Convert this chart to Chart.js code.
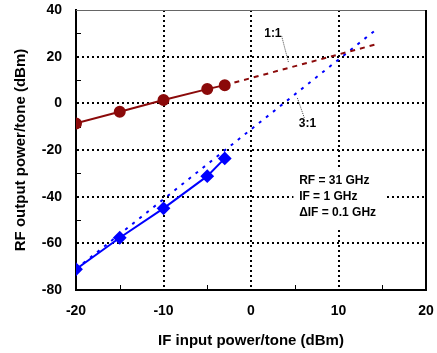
<!DOCTYPE html>
<html>
<head>
<meta charset="utf-8">
<script src="https://cdn.jsdelivr.net/npm/chart.js@4.4.0/dist/chart.umd.min.js"></script>
<style>
  body { margin: 0; background: #fff; }
  #wrap { width: 437px; height: 353px; }
</style>
</head>
<body>
<div id="wrap"><canvas id="chart" width="437" height="353"></canvas></div>
<script>
// IF input power per tone (dBm)
var inputPower = [-20, -15, -10, -5, -3];
// measured RF output power per tone (dBm)
var fundOut = [-8.6, -3.6, 1.4, 6.1, 7.8];
var im3Out = [-71.1, -57.6, -45.0, -31.2, -23.6];
// extrapolated 1:1 and 3:1 lines
var fit1x = [-3, 14.5];
var fit1y = [7.8, 25.5];
var fit3x = [-20, 14.5];
var fit3y = [-71, 32.2];
// labelled ticks
var xTicks = [-20, -10, 0, 10, 20];
var yTicks = [-80, -60, -40, -20, 0, 20, 40];
var notes = ['RF = 31 GHz', 'IF = 1 GHz', '\u0394IF = 0.1 GHz'];

var RED = '#8b0a0a';
var BLUE = '#0000ff';
var FONT = 'Liberation Sans, Arial, sans-serif';

function pts(xs, ys) {
    return xs.map(function(x, i) { return {x: x, y: ys[i]}; });
}

// minor ticks, frame, slope labels and the note box
var extras = {
    id: 'extras',
    beforeDatasetsDraw: function(chart) {
        var ctx = chart.ctx, a = chart.chartArea;
        var xs = chart.scales.x, ys = chart.scales.y;
        ctx.save();
        ctx.strokeStyle = '#000';
        ctx.lineWidth = 1;
        ys.ticks.forEach(function(t) {
            if (yTicks.indexOf(t.value) >= 0) return;
            var p = Math.round(ys.getPixelForValue(t.value)) + 0.5;
            ctx.beginPath(); ctx.moveTo(a.left, p); ctx.lineTo(a.left + 5, p); ctx.stroke();
        });
        xs.ticks.forEach(function(t) {
            if (xTicks.indexOf(t.value) >= 0) return;
            var p = Math.round(xs.getPixelForValue(t.value)) + 0.5;
            ctx.beginPath(); ctx.moveTo(p, a.bottom); ctx.lineTo(p, a.bottom - 5); ctx.stroke();
        });
        // top and right edges of the box
        ctx.strokeStyle = '#666';
        ctx.beginPath(); ctx.moveTo(a.left, a.top + 0.5); ctx.lineTo(a.right, a.top + 0.5); ctx.stroke();
        ctx.strokeStyle = '#000';
        ctx.lineWidth = 2;
        ctx.beginPath(); ctx.moveTo(a.right, a.top); ctx.lineTo(a.right, a.bottom); ctx.stroke();

        // note box (white behind the grid)
        var bx0 = xs.getPixelForValue(4.85), bx1 = xs.getPixelForValue(15.4);
        var by0 = ys.getPixelForValue(-28.6), by1 = ys.getPixelForValue(-54.3);
        ctx.fillStyle = '#fff';
        ctx.fillRect(bx0, by0, bx1 - bx0, by1 - by0);
        ctx.fillStyle = '#000';
        ctx.font = 'bold 12px ' + FONT;
        ctx.textAlign = 'left';
        ctx.textBaseline = 'middle';
        var tx = xs.getPixelForValue(5.5);
        notes.forEach(function(s, i) {
            ctx.fillText(s, tx, ys.getPixelForValue(-33.2 - i * 6.85));
        });

        // slope labels with leader lines
        ctx.textAlign = 'center';
        ctx.fillText('1:1', xs.getPixelForValue(2.5), ys.getPixelForValue(30));
        ctx.fillText('3:1', xs.getPixelForValue(6.45), ys.getPixelForValue(-8.9));
        ctx.strokeStyle = '#444';
        ctx.lineWidth = 1;
        ctx.setLineDash([1, 1]);
        ctx.beginPath();
        ctx.moveTo(xs.getPixelForValue(3.5), ys.getPixelForValue(28.9));
        ctx.lineTo(xs.getPixelForValue(4.3), ys.getPixelForValue(17.3));
        ctx.moveTo(xs.getPixelForValue(5.3), ys.getPixelForValue(2.3));
        ctx.lineTo(xs.getPixelForValue(6.1), ys.getPixelForValue(-6.3));
        ctx.stroke();
        ctx.restore();
    }
};

function gridColor(list, lo, hi) {
    return function(c) {
        var v = c.tick.value;
        return (list.indexOf(v) >= 0 && v !== lo && v !== hi) ? '#000' : 'rgba(0,0,0,0)';
    };
}

function noPad(s) {
    s.paddingLeft = 0; s.paddingRight = 0;
    s.paddingTop = 0; s.paddingBottom = 0;
}

var chart = new Chart(document.getElementById('chart'), {
    type: 'scatter',
    data: {
        datasets: [
            {
                data: pts(inputPower, fundOut),
                showLine: true,
                borderColor: RED, backgroundColor: RED,
                borderWidth: 2, pointRadius: 5, pointStyle: 'circle'
            },
            {
                data: pts(inputPower, im3Out),
                showLine: true,
                borderColor: BLUE, backgroundColor: BLUE,
                borderWidth: 2, pointRadius: 5.5, pointStyle: 'rectRot'
            },
            {
                data: pts(fit1x, fit1y),
                showLine: true,
                borderColor: RED, borderWidth: 2, borderDash: [5, 5],
                pointRadius: 0
            },
            {
                data: pts(fit3x, fit3y),
                showLine: true,
                borderColor: BLUE, borderWidth: 2, borderDash: [3, 6],
                pointRadius: 0
            }
        ]
    },
    options: {
        responsive: false,
        animation: false,
        layout: { padding: { top: 10, right: 11, left: 0, bottom: 0 } },
        plugins: { legend: { display: false }, tooltip: { enabled: false } },
        scales: {
            x: {
                type: 'linear', min: -20, max: 20,
                afterFit: function(s) { s.height = 63; noPad(s); },
                ticks: {
                    stepSize: 5, padding: 13, color: '#000',
                    font: { family: FONT, size: 14, weight: 'bold' },
                    callback: function(v) { return xTicks.indexOf(v) >= 0 ? String(v) : ''; }
                },
                grid: { drawTicks: false, lineWidth: 2, color: gridColor(xTicks, -20, 20) },
                border: { display: true, color: '#000', width: 2, dash: [2, 3] },
                title: {
                    display: true, text: 'IF input power/tone (dBm)', color: '#000',
                    font: { family: FONT, size: 15, weight: 'bold' },
                    padding: { top: 0, bottom: 3 }
                }
            },
            y: {
                type: 'linear', min: -80, max: 40,
                afterFit: function(s) { s.width = 76; noPad(s); },
                ticks: {
                    stepSize: 10, padding: 14, color: '#000',
                    font: { family: FONT, size: 14, weight: 'bold' },
                    callback: function(v) { return yTicks.indexOf(v) >= 0 ? String(v) : ''; }
                },
                grid: { drawTicks: false, lineWidth: 2, color: gridColor(yTicks, -80, 40) },
                border: { display: true, color: '#000', width: 2, dash: [2, 3] },
                title: {
                    display: true, text: 'RF output power/tone (dBm)', color: '#000',
                    font: { family: FONT, size: 15, weight: 'bold' },
                    padding: { top: 12, bottom: 0 }
                }
            }
        }
    },
    plugins: [extras]
});
</script>
</body>
</html>
